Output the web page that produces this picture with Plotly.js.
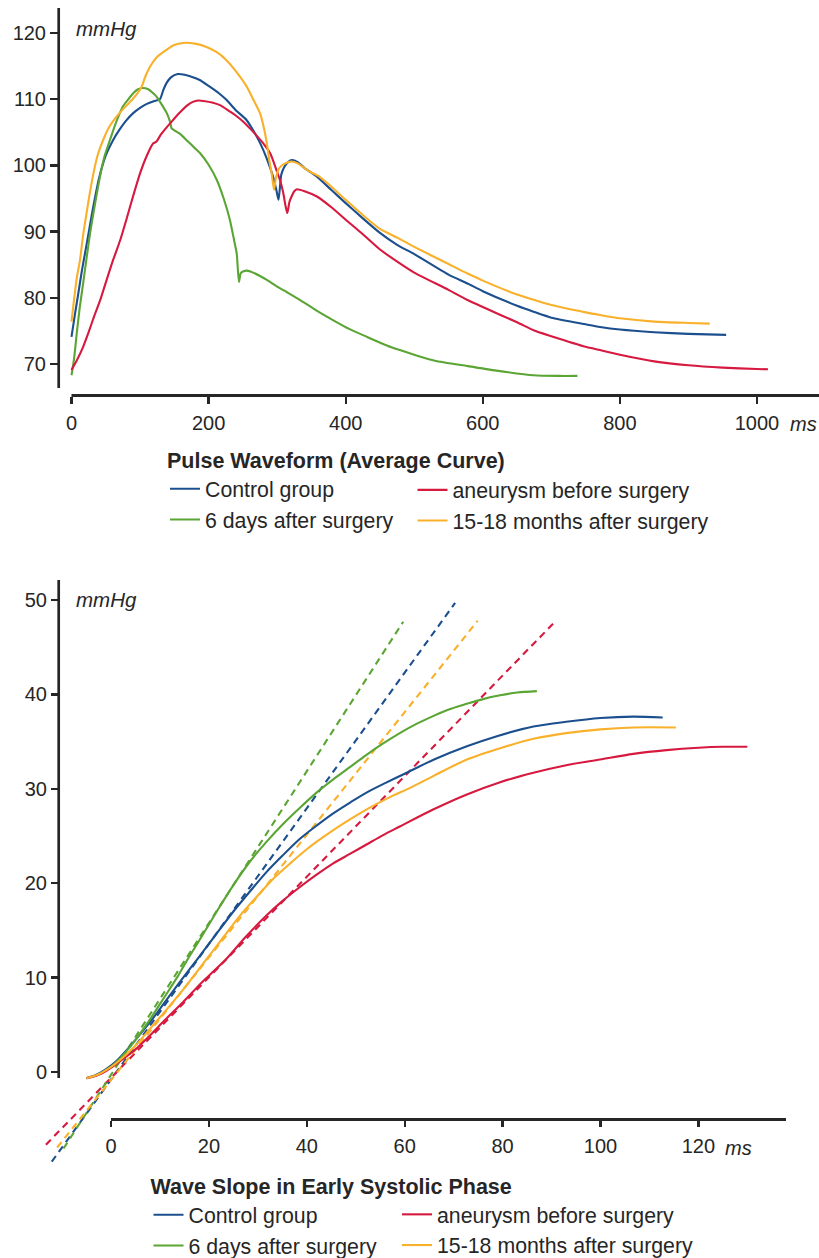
<!DOCTYPE html>
<html>
<head>
<meta charset="utf-8">
<script src="https://cdn.plot.ly/plotly-3.0.1.min.js"></script>
<style>html,body{margin:0;padding:0;background:#fff;}#chart{width:819px;height:1258px;}</style>
</head>
<body>
<div id="chart"></div>
<script>
// ---------- Data: Pulse waveform (average curve), ms vs mmHg ----------
const seriesNames = ["Control group", "aneurysm before surgery", "6 days after surgery", "15-18 months after surgery"];
const seriesColors = ["#1c4f8e", "#d6193f", "#5ba534", "#f9b02a"];

const pulseCtrlT = [0,5,10,15,20,25,30,35,40,50,60,70,80,90,100,110,120,129,134,139,145,155,165,175,187,200,215,226,240,255,265,275,285,294,299,302,306,310,315,321,330,340,358,380,400,425,450,475,500,550,577,600,650,674,700,750,771,800,850,900,955];
const pulseCtrlP = [74.1,77.5,80.7,84.0,86.9,89.8,92.8,95.5,98.0,101.5,103.7,105.4,106.8,107.9,108.7,109.3,109.7,110.0,111.4,112.5,113.3,113.8,113.7,113.4,112.9,112.0,110.9,109.9,108.3,106.9,105.3,103.4,101.0,98.3,96.2,94.8,98.6,99.7,100.4,100.8,100.5,99.6,98.3,96.2,94.3,92.0,89.8,88.0,86.6,83.5,82.2,81.0,78.8,77.9,77.0,76.0,75.6,75.2,74.8,74.55,74.4];

const pulseAneuT = [0,8,17,25,33,42,50,60,71,80,90,100,110,119,124,130,140,148.5,158,168,177,185,195,205,216.6,230,240,250.6,262,270,280,290,299,305,309,312,314.8,318,321,325,329,340,358,380,400,425,450,479,500,550,577,600,650,674,700,750,771,800,850,900,950,1000,1016];
const pulseAneuP = [69.1,70.6,72.6,74.8,77.2,79.7,82.3,85.5,88.7,91.8,95.4,98.8,101.5,103.3,103.6,104.6,105.9,106.9,108.0,109.0,109.6,109.8,109.7,109.5,109.1,108.2,107.5,106.6,105.4,104.5,103.3,101.8,99.3,97.5,95.8,94.0,92.8,94.5,95.3,96.1,96.4,96.1,95.3,93.6,91.8,89.6,87.3,85.2,83.8,81.2,79.7,78.6,76.3,75.1,74.2,72.6,72.1,71.4,70.4,69.8,69.45,69.25,69.2];

const pulse6dT = [0,4,7.6,12,17,22,27,34,41.6,48,56,65,75,83,90,97,104,112,118,124,131,139,144,146,150,158,170,180,188,200,212,222,231,237,241,244.3,246.8,251,256,265,275,285,300,315,333,357,382,405,431,460,479,500,530,577,620,674,710,738];
const pulse6dP = [68.3,71.0,74.6,78.5,82.2,86.0,89.7,94.0,98.3,101.3,103.8,106.5,108.9,110.0,110.9,111.5,111.7,111.5,111.0,110.4,109.3,107.9,106.5,105.6,105.3,104.8,103.6,102.6,101.8,100.1,97.8,95.0,91.8,88.8,86.7,82.4,83.7,84.0,84.1,83.8,83.3,82.7,81.7,80.8,79.7,78.1,76.6,75.3,74.1,72.8,72.1,71.4,70.5,69.7,69.0,68.3,68.2,68.2];

const pulse15mT = [0,4,8,12.4,17,22,27,32,38,46,55,66,78,90,97,102,108,114.5,125,139,150,163,180,197,212,226,240,255.6,265,275,281,285,289,292,295.4,298,302,308,314,321,330,345,360,380,400,425,450,475,500,550,577,600,650,674,700,750,771,800,850,900,931];
const pulse15mP = [76.4,80.0,83.2,85.7,89.5,92.8,96.0,98.8,101.5,103.8,105.8,107.4,108.8,110.1,111.0,111.8,113.5,114.9,116.4,117.5,118.2,118.5,118.4,117.9,117.1,115.9,114.2,111.9,110.0,107.9,105.5,103.3,100.5,98.8,96.3,98.0,99.4,100.1,100.4,100.6,100.3,99.2,98.4,96.7,94.8,92.5,90.4,89.1,87.7,85.1,83.7,82.6,80.5,79.7,78.9,77.8,77.4,76.9,76.4,76.2,76.1];

// ---------- Data: Wave slope in early systolic phase ----------
const slopeCtrlT = [-5,-3,-1,1,3,5,8,11,14,18,21.5,25,28.5,31.8,35,38.6,42,45.4,49,52.2,56,60,66,72.7,79,86.3,93,100,106.7,112.7];
const slopeCtrlP = [-0.65,-0.3,0.3,1.1,2.2,3.4,5.3,7.4,9.5,12.2,14.6,17.0,19.2,21.2,22.9,24.7,26.1,27.4,28.6,29.6,30.6,31.6,33.1,34.5,35.6,36.6,37.1,37.5,37.65,37.55];

const slopeAneuT = [-5,-3,-1,1,3,5,8,11,14.7,18,20,23.6,27.5,31.8,35,38.6,42,45.4,48.8,52.2,55.6,59,65.8,72.7,79.5,86.3,93,99.9,106.7,113.5,120,125,130];
const slopeAneuP = [-0.65,-0.4,0.1,0.8,1.6,2.4,3.9,5.5,7.4,9.2,10.2,12.0,14.3,16.6,18.1,19.6,20.9,22.1,23.1,24.1,25.1,26.0,27.8,29.4,30.7,31.7,32.5,33.1,33.7,34.1,34.35,34.45,34.45];

const slope6dT = [-5,-3,-1,1,3,5,8,11,13.6,15.5,18,21.6,25,28.4,31.8,35.2,38.6,42,45.4,48.8,52.2,55.6,59,62.5,65.8,69,72.7,76,79.5,83,87];
const slope6dP = [-0.65,-0.35,0.2,1.0,2.1,3.4,5.6,8.0,10.1,11.8,13.9,17.0,19.8,22.3,24.4,26.3,28.0,29.6,31.0,32.3,33.6,34.8,35.9,36.9,37.7,38.4,39.0,39.5,39.9,40.2,40.35];

const slope15mT = [-5,-3,-1,1,3,5,8,11,14.7,19.6,23,26.4,30,33.2,36.6,40,43.4,46.8,50.5,54.3,57.7,61.1,66,72.7,79.5,86.3,93,100,106.7,115.4];
const slope15mP = [-0.65,-0.35,0.2,0.9,1.8,2.8,4.6,6.4,8.7,12.0,14.3,16.6,18.7,20.5,22.1,23.6,24.9,26.1,27.3,28.4,29.3,30.1,31.4,33.1,34.3,35.3,35.9,36.3,36.5,36.5];

// tangent (dashed) lines: start and end points
const tanCtrlT = [-12.1, 70.3], tanCtrlP = [-9.5, 49.7];
const tanAneuT = [-13.3, 90.9], tanAneuP = [-7.7, 47.8];
const tan6dT = [-9.7, 59.7], tan6dP = [-8.1, 47.7];
const tan15mT = [-11.0, 74.9], tan15mP = [-8.0, 47.8];

// tick labels
const pulseXTicks = [0, 200, 400, 600, 800, 1000];
const pulseYTicks = [70, 80, 90, 100, 110, 120];
const slopeXTicks = [0, 20, 40, 60, 80, 100, 120];
const slopeYTicks = [0, 10, 20, 30, 40, 50];

// ---------- Layout geometry (pixels -> paper) ----------
const W = 819, H = 1258, ML = 40, MR = 45;
const GW = W - ML - MR;
const fx = px => (px - ML) / GW;
const fy = py => 1 - py / H;

const FONT = "Liberation Sans, Arial, Helvetica, sans-serif";
const INK = "#262626";
const LW = 2.1;

const pulseSets = [[pulseCtrlT, pulseCtrlP],[pulseAneuT, pulseAneuP],[pulse6dT, pulse6dP],[pulse15mT, pulse15mP]];
const slopeSets = [[slopeCtrlT, slopeCtrlP],[slopeAneuT, slopeAneuP],[slope6dT, slope6dP],[slope15mT, slope15mP]];
const tanSets = [[tanCtrlT, tanCtrlP],[tanAneuT, tanAneuP],[tan6dT, tan6dP],[tan15mT, tan15mP]];
// legend columns: col 1 = Control, 6 days ; col 2 = aneurysm, 15-18 months
const topLegendOf = ["legend", "legend3", "legend", "legend3"];
const botLegendOf = ["legend2", "legend4", "legend2", "legend4"];
const order = [0, 2, 1, 3];

const traces = [];
order.forEach(i => traces.push({
  x: pulseSets[i][0], y: pulseSets[i][1], type: "scatter", mode: "lines", name: seriesNames[i],
  line: {color: seriesColors[i], width: LW, shape: "spline", smoothing: 0.6}, xaxis: "x", yaxis: "y", legend: topLegendOf[i], hoverinfo: "skip"
}));
tanSets.forEach((s, i) => traces.push({
  x: s[0], y: s[1], type: "scatter", mode: "lines", name: seriesNames[i] + " (tangent)",
  line: {color: seriesColors[i], width: LW, dash: "7px,5px"}, xaxis: "x2", yaxis: "y2", showlegend: false, hoverinfo: "skip"
}));
order.forEach(i => traces.push({
  x: slopeSets[i][0], y: slopeSets[i][1], type: "scatter", mode: "lines", name: seriesNames[i],
  line: {color: seriesColors[i], width: LW, shape: "spline", smoothing: 0.8}, xaxis: "x2", yaxis: "y2", legend: botLegendOf[i], hoverinfo: "skip"
}));

// top chart px mapping: 0ms at 71.5px, 0.6855 px/ms ; 120 mmHg at 33px, 6.62 px/mmHg
const topL = 59, topR = W - MR, topT = 8, topB = 396;
const pxms1 = 0.6855, x0px1 = 71.5, pxmm1 = 6.62, y120 = 33;
const xr1 = [(topL - x0px1) / pxms1, (topR - x0px1) / pxms1];
const yr1 = [120 - (topB - y120) / pxmm1, 120 + (y120 - topT) / pxmm1];

// bottom chart: 0ms at 111px, 4.895 px/ms ; 0 mmHg at 1072px, 9.44 px/mmHg
const botL = ML, botR = W - MR, botT = 570, botB = 1175;
const pxms2 = 4.895, x0px2 = 111, pxmm2 = 9.44, y0px2 = 1072;
const xr2 = [(botL - x0px2) / pxms2, (botR - x0px2) / pxms2];
const yr2 = [(y0px2 - botB) / pxmm2, (y0px2 - botT) / pxmm2];

const tickFont = {family: FONT, size: 20, color: INK};
const axBase = {showgrid: false, zeroline: false, showline: false, ticks: "outside", tickcolor: INK, tickwidth: 2.4, tickfont: tickFont, fixedrange: true};

const legendBase = {
  orientation: "v", xanchor: "left", yanchor: "top",
  font: {family: FONT, size: 21.3, color: INK}, bgcolor: "rgba(0,0,0,0)", borderwidth: 0, traceorder: "normal",
  itemclick: false, itemdoubleclick: false
};
const titleFont = {family: FONT, size: 21.5, color: INK};

const layout = {
  width: W, height: H, margin: {l: ML, r: MR, t: 0, b: 0, autoexpand: false},
  paper_bgcolor: "#fff", plot_bgcolor: "#fff", font: {family: FONT, color: INK},
  xaxis: Object.assign({}, axBase, {domain: [fx(topL), fx(topR)], range: xr1, anchor: "y", tickvals: pulseXTicks, ticktext: pulseXTicks.map(String), ticklen: 7, ticklabelstandoff: 2}),
  yaxis: Object.assign({}, axBase, {domain: [fy(topB), fy(topT)], range: yr1, anchor: "x", tickvals: pulseYTicks, ticktext: pulseYTicks.map(String), ticklen: 8}),
  xaxis2: Object.assign({}, axBase, {domain: [fx(botL), fx(botR)], range: xr2, anchor: "free", position: fy(1119.5), tickvals: slopeXTicks, ticktext: slopeXTicks.map(String), ticklen: 6, ticklabelstandoff: 2}),
  yaxis2: Object.assign({}, axBase, {domain: [fy(botB), fy(botT)], range: yr2, anchor: "free", position: fx(59), tickvals: slopeYTicks, ticktext: slopeYTicks.map(String), ticklen: 8}),
  legend: Object.assign({}, legendBase, {x: fx(165), y: fy(440.5), title: {text: "<b>Pulse Waveform (Average Curve)</b>", side: "top", font: titleFont}}),
  legend3: Object.assign({}, legendBase, {x: fx(412.5), y: fy(469.5)}),
  legend2: Object.assign({}, legendBase, {x: fx(148.5), y: fy(1166.5), title: {text: "<b>Wave Slope in Early Systolic Phase</b>", side: "top", font: titleFont}}),
  legend4: Object.assign({}, legendBase, {x: fx(397), y: fy(1194)}),
  shapes: [
    {type: "line", xref: "paper", yref: "paper", x0: fx(58.7), x1: fx(58.7), y0: fy(8), y1: fy(388), line: {color: INK, width: 2.7}},
    {type: "line", xref: "paper", yref: "paper", x0: fx(71.5), x1: fx(W), y0: fy(395.5), y1: fy(395.5), line: {color: INK, width: 3}},
    {type: "line", xref: "paper", yref: "paper", x0: fx(58.7), x1: fx(58.7), y0: fy(580), y1: fy(1078), line: {color: INK, width: 2.7}},
    {type: "line", xref: "paper", yref: "paper", x0: fx(111), x1: fx(786), y0: fy(1119.5), y1: fy(1119.5), line: {color: INK, width: 3}}
  ],
  annotations: [
    {text: "<i>mmHg</i>", xref: "paper", yref: "paper", x: fx(74), y: fy(29), xanchor: "left", yanchor: "middle", showarrow: false, font: {family: FONT, size: 20.5, color: INK}},
    {text: "<i>ms</i>", xref: "paper", yref: "paper", x: fx(788), y: fy(423.5), xanchor: "left", yanchor: "middle", showarrow: false, font: {family: FONT, size: 20, color: INK}},
    {text: "<i>mmHg</i>", xref: "paper", yref: "paper", x: fx(74), y: fy(599), xanchor: "left", yanchor: "middle", showarrow: false, font: {family: FONT, size: 20.5, color: INK}},
    {text: "<i>ms</i>", xref: "paper", yref: "paper", x: fx(723), y: fy(1147.5), xanchor: "left", yanchor: "middle", showarrow: false, font: {family: FONT, size: 20, color: INK}}
  ],
  showlegend: true
};

Plotly.newPlot("chart", traces, layout, {displayModeBar: false, staticPlot: true});
</script>
</body>
</html>
